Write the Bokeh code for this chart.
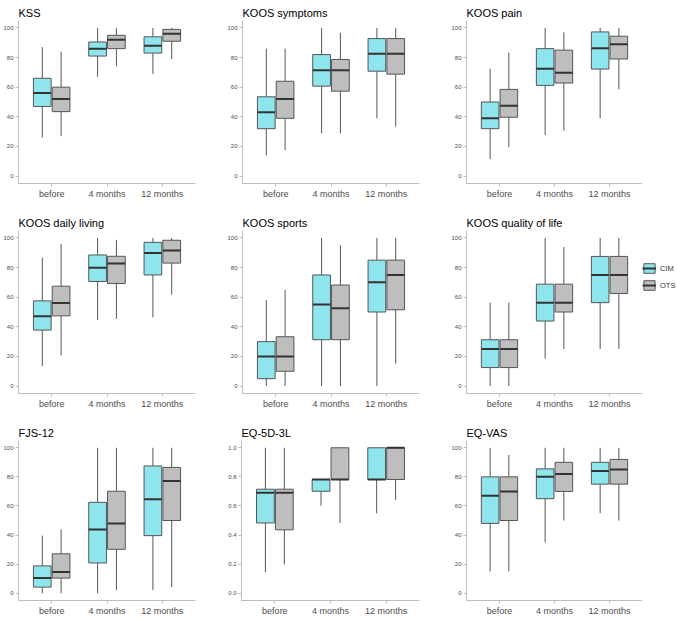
from bokeh.plotting import figure
from bokeh.models import ColumnDataSource, Range1d, FixedTicker, Legend, LegendItem
from bokeh.transform import dodge
from bokeh.layouts import column, row
from bokeh.embed import file_html
from bokeh.resources import INLINE

# ---------------- data ----------------
times = ["before", "4 months", "12 months"]
groups = ["CIM", "OTS"]

titles = ["KSS", "KOOS symptoms", "KOOS pain",
          "KOOS daily living", "KOOS sports", "KOOS quality of life",
          "FJS-12", "EQ-5D-3L", "EQ-VAS"]

# each: lower whisker, Q1, median, Q3, upper whisker (per time point)
KSS_CIM = dict(lower=[26, 67, 69], q1=[47, 81, 83], med=[56, 86, 88], q3=[66, 90.5, 94], upper=[87, 100, 100])
KSS_OTS = dict(lower=[27, 74, 79], q1=[43.5, 86, 91], med=[52, 92, 96], q3=[60, 95, 99], upper=[84, 100, 100])

SYM_CIM = dict(lower=[14, 28.8, 39], q1=[32, 60.7, 70.8], med=[43, 71.5, 82.5], q3=[53.5, 82, 92.8], upper=[86, 100, 100])
SYM_OTS = dict(lower=[17.5, 28.8, 33.3], q1=[39, 57.3, 68.8], med=[52, 71.5, 82.5], q3=[64, 78.7, 92.8], upper=[86, 96.6, 100])

PAIN_CIM = dict(lower=[11.4, 27.8, 39], q1=[32, 61.2, 72.2], med=[39, 72.4, 86.3], q3=[50, 86, 97.3], upper=[72.4, 100, 100])
PAIN_OTS = dict(lower=[19.5, 30.7, 58.5], q1=[39.7, 62.8, 79], med=[47.5, 69.7, 89], q3=[58.5, 85, 94.4], upper=[83.4, 97, 100])

ADL_CIM = dict(lower=[13.5, 44.7, 46.5], q1=[37.8, 70.6, 75], med=[47.2, 79.8, 89.9], q3=[57.5, 88.5, 97], upper=[86.7, 100, 100])
ADL_OTS = dict(lower=[20.7, 45.4, 61.8], q1=[47.4, 69.2, 83], med=[56, 82.7, 91.5], q3=[67.4, 87.6, 98.4], upper=[96, 98.7, 100])

SPORT_CIM = dict(lower=[0, 0, 0], q1=[5, 31.3, 50], med=[20, 55, 70], q3=[30, 75, 85], upper=[58, 100, 100])
SPORT_OTS = dict(lower=[0, 0, 15.2], q1=[10, 31.3, 51.5], med=[20, 52.5, 75], q3=[33.3, 68.2, 85], upper=[65, 95, 100])

QOL_CIM = dict(lower=[0, 18.6, 25], q1=[12.5, 43.9, 56.3], med=[25, 56.3, 75], q3=[31.3, 68.8, 87.5], upper=[56.3, 100, 100])
QOL_OTS = dict(lower=[0, 25, 25], q1=[12.5, 50, 62.5], med=[25, 56.3, 75], q3=[31.3, 68.8, 87.5], upper=[56.3, 93.8, 100])

FJS_CIM = dict(lower=[0, 0, 2.1], q1=[4.2, 20.8, 39.6], med=[10.4, 43.8, 64.6], q3=[18.8, 62.5, 87.5], upper=[39.6, 100, 100])
FJS_OTS = dict(lower=[0, 2.1, 4.2], q1=[10.4, 30.2, 50], med=[14.6, 47.9, 77.1], q3=[27.1, 70.1, 86.5], upper=[43.8, 100, 100])

EQ5D_CIM = dict(lower=[0.146, 0.602, 0.55], q1=[0.483, 0.701, 0.782], med=[0.69, 0.782, 0.782], q3=[0.715, 0.782, 1.0], upper=[1.0, 0.782, 1.0])
EQ5D_OTS = dict(lower=[0.198, 0.483, 0.64], q1=[0.436, 0.782, 0.782], med=[0.69, 0.782, 1.0], q3=[0.715, 1.0, 1.0], upper=[1.0, 1.0, 1.0])

VAS_CIM = dict(lower=[15, 35, 55], q1=[48, 65, 75], med=[67, 80, 84], q3=[80, 85.5, 90], upper=[100, 100, 100])
VAS_OTS = dict(lower=[15, 50, 50], q1=[50, 70, 75], med=[70, 82, 85], q3=[80, 90, 92], upper=[95, 100, 100])

panel_data = [(KSS_CIM, KSS_OTS), (SYM_CIM, SYM_OTS), (PAIN_CIM, PAIN_OTS),
              (ADL_CIM, ADL_OTS), (SPORT_CIM, SPORT_OTS), (QOL_CIM, QOL_OTS),
              (FJS_CIM, FJS_OTS), (EQ5D_CIM, EQ5D_OTS), (VAS_CIM, VAS_OTS)]

ticks_100 = [0, 20, 40, 60, 80, 100]
labels_100 = ["0", "20", "40", "60", "80", "100"]
ticks_1 = [0.0, 0.2, 0.4, 0.6, 0.8, 1.0]
labels_1 = ["0.0", "0.2", "0.4", "0.6", "0.8", "1.0"]

# ---------------- style ----------------
FONT = "Liberation Sans"
FILL = {"CIM": "#8EE5EE", "OTS": "#BEBEBE"}
OFFSET = {"CIM": -0.17, "OTS": 0.17}
BOX_W = 0.32
EDGE = "#555555"
MED = "#333333"
AXIS = "#BDBDBD"

x_pos = [i + 1 for i in range(len(times))]

COL_W = [224, 224, 194]
COL_BL = [17, 17, 16]
COL_BR = [29, 29, 0]
ROW_H = [210, 210, 198]
ROW_BB = [27, 27, 16]
LEGEND_W = 35


def draw_boxes(p, cim, ots, hidden=False):
    rends = {}
    for g, d in zip(groups, (cim, ots)):
        src = ColumnDataSource(dict(x=x_pos, **d))
        off = OFFSET[g]
        xc = dodge("x", off)
        w1 = p.segment(x0=xc, y0="q3", x1=xc, y1="upper", source=src, line_color=EDGE, line_width=1)
        w2 = p.segment(x0=xc, y0="q1", x1=xc, y1="lower", source=src, line_color=EDGE, line_width=1)
        box = p.vbar(x=xc, width=BOX_W, top="q3", bottom="q1", source=src,
                     fill_color=FILL[g], line_color=EDGE, line_width=1)
        med = p.segment(x0=dodge("x", off - BOX_W / 2), y0="med", x1=dodge("x", off + BOX_W / 2), y1="med",
                        source=src, line_color=MED, line_width=2)
        if hidden:
            for r in (w1, w2, box, med):
                r.visible = False
        rends[g] = [box, med]
    return rends


def make_panel(title, cim, ots, scale1, col, rw):
    ticks, labels = (ticks_1, labels_1) if scale1 else (ticks_100, labels_100)
    top = ticks[-1]
    pad = 0.05 * top
    p = figure(width=COL_W[col], height=ROW_H[rw], output_backend="svg", toolbar_location=None,
               x_range=Range1d(0.4, 3.6), y_range=Range1d(-pad, top + pad),
               min_border_left=COL_BL[col], min_border_right=COL_BR[col],
               min_border_top=20, min_border_bottom=ROW_BB[rw])
    p.title.text = title
    p.title.text_font = FONT
    p.title.text_font_size = "11px"
    p.title.text_font_style = "normal"
    p.title.text_color = "#000000"
    p.title.align = "left"
    p.title.offset = 0
    p.title.standoff = 4
    p.outline_line_color = None
    p.xgrid.visible = False
    p.ygrid.visible = False

    draw_boxes(p, cim, ots)

    p.xaxis.ticker = FixedTicker(ticks=x_pos)
    p.xaxis.major_label_overrides = {x: t for x, t in zip(x_pos, times)}
    p.yaxis.ticker = FixedTicker(ticks=ticks)
    p.yaxis.major_label_overrides = {t: l for t, l in zip(ticks, labels)}
    for ax in (p.xaxis[0], p.yaxis[0]):
        ax.axis_line_color = AXIS
        ax.major_tick_line_color = AXIS
        ax.major_tick_out = 3
        ax.major_tick_in = 0
        ax.minor_tick_line_color = None
        ax.major_label_text_font = FONT
        ax.major_label_text_color = "#4D4D4D"
        ax.major_label_standoff = 2
    p.xaxis.major_label_text_font_size = "9px"
    p.yaxis.major_label_text_font_size = "6px"
    return p


def make_legend_panel():
    # a narrow panel that only holds the legend; its box glyphs are hidden
    lp = figure(width=LEGEND_W, height=ROW_H[1], output_backend="svg", toolbar_location=None,
                x_range=Range1d(0.4, 3.6), y_range=Range1d(-5, 105),
                x_axis_type=None, y_axis_type=None, min_border=0)
    lp.outline_line_color = None
    lp.xgrid.visible = False
    lp.ygrid.visible = False
    rends = draw_boxes(lp, QOL_CIM, QOL_OTS, hidden=True)
    leg = Legend(items=[LegendItem(label=g, renderers=rends[g]) for g in groups],
                 location=(0, 102), orientation="vertical",
                 glyph_width=14, glyph_height=12, label_standoff=4, spacing=5,
                 padding=0, margin=0, border_line_color=None,
                 background_fill_alpha=0,
                 label_text_font=FONT, label_text_font_size="7.5px",
                 label_text_color="#333333")
    lp.add_layout(leg)
    return lp


panels = []
for i, (t, (c, o)) in enumerate(zip(titles, panel_data)):
    panels.append(make_panel(t, c, o, t == "EQ-5D-3L", i % 3, i // 3))

layout = column(row(*panels[0:3]), row(*panels[3:6], make_legend_panel()), row(*panels[6:9]))

open("out.html", "w").write(file_html(layout, INLINE))
